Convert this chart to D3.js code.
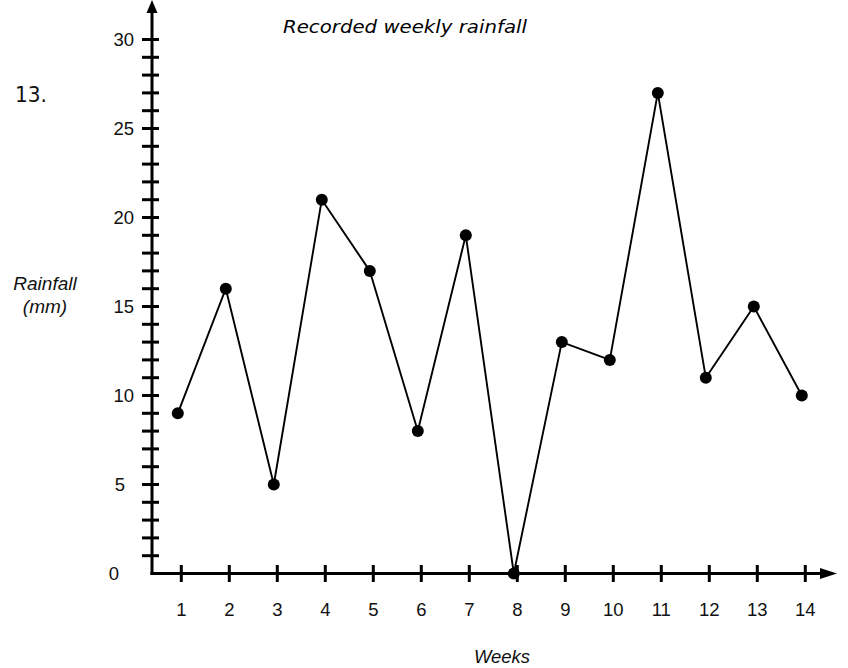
<!DOCTYPE html>
<html>
<head>
<meta charset="utf-8">
<script src="https://cdn.jsdelivr.net/npm/d3@7"></script>
<style>
  html, body { margin: 0; padding: 0; background: #fff; }
  svg { display: block; }
</style>
</head>
<body>
<svg id="chart" width="848" height="668"></svg>
<script>
// ---- data ----
const weeks = [1, 2, 3, 4, 5, 6, 7, 8, 9, 10, 11, 12, 13, 14];
const rainfall = [9, 16, 5, 21, 17, 8, 19, 0, 13, 12, 27, 11, 15, 10];
const yTickLabels = [0, 5, 10, 15, 20, 25, 30];
const yMinorTicks = d3.range(1, 31);
const titleText = "Recorded weekly rainfall";
const questionNumber = "13.";
const yLabelLines = ["Rainfall", "(mm)"];
const xLabelText = "Weeks";

// ---- layout ----
const svg = d3.select("#chart");
const originX = 152, originY = 573.5;
const x = d3.scaleLinear().domain([1, 14]).range([181.3, 805.3]);
const y = d3.scaleLinear().domain([0, 30]).range([originY, 39.5]);
const pointShift = -3.5;
const labelFont = "Liberation Sans, Arial, sans-serif";

// y axis
svg.append("line").attr("x1", originX).attr("x2", originX)
  .attr("y1", originY + 1.5).attr("y2", 8)
  .attr("stroke", "#000").attr("stroke-width", 3);
svg.append("path").attr("d", `M${originX},0 L${originX - 5.5},13 L${originX + 5.5},13 Z`).attr("fill", "#000");
svg.append("g").selectAll("line").data(yMinorTicks).join("line")
  .attr("x1", 142).attr("x2", 159)
  .attr("y1", d => y(d)).attr("y2", d => y(d))
  .attr("stroke", "#000").attr("stroke-width", 3);

// x axis
svg.append("line").attr("x1", originX - 1.5).attr("x2", 826)
  .attr("y1", originY).attr("y2", originY)
  .attr("stroke", "#000").attr("stroke-width", 3);
svg.append("path").attr("d", `M837,${originY} L820,${originY - 5.5} L820,${originY + 5.5} Z`).attr("fill", "#000");
svg.append("g").selectAll("line").data(weeks).join("line")
  .attr("x1", d => x(d)).attr("x2", d => x(d))
  .attr("y1", 565).attr("y2", 582)
  .attr("stroke", "#000").attr("stroke-width", 3);

// tick labels
svg.append("g").selectAll("text").data(weeks).join("text")
  .attr("x", d => x(d)).attr("y", 616)
  .attr("text-anchor", "middle")
  .attr("font-family", labelFont)
  .attr("font-size", 18.5).attr("fill", "#111")
  .text(d => d);
svg.append("g").selectAll("text").data(yTickLabels).join("text")
  .attr("x", d => d >= 10 ? 134 : (d === 5 ? 125 : 119))
  .attr("y", d => y(d) + 6.8)
  .attr("text-anchor", "end")
  .attr("font-family", labelFont)
  .attr("font-size", 18.5).attr("fill", "#111")
  .text(d => d);

// line + points
const pts = weeks.map((w, i) => [x(w) + pointShift, y(rainfall[i])]);
svg.append("path").datum(pts)
  .attr("d", d3.line())
  .attr("fill", "none").attr("stroke", "#000").attr("stroke-width", 1.9)
  .attr("stroke-linejoin", "round");
svg.append("g").selectAll("circle").data(pts).join("circle")
  .attr("cx", d => d[0]).attr("cy", d => d[1]).attr("r", 6)
  .attr("fill", "#000");

// texts
svg.append("text").attr("x", 283).attr("y", 33)
  .attr("font-family", "DejaVu Sans, sans-serif").attr("font-style", "italic")
  .attr("font-size", 18).attr("fill", "#000")
  .attr("textLength", 244).attr("lengthAdjust", "spacingAndGlyphs")
  .text(titleText);
svg.append("text").attr("x", 15).attr("y", 102)
  .attr("font-family", "DejaVu Sans, sans-serif")
  .attr("font-size", 21).attr("fill", "#111")
  .attr("textLength", 32).attr("lengthAdjust", "spacingAndGlyphs")
  .text(questionNumber);
svg.append("g").selectAll("text").data(yLabelLines).join("text")
  .attr("x", 45).attr("y", (d, i) => 290 + i * 23)
  .attr("text-anchor", "middle")
  .attr("font-family", labelFont).attr("font-style", "italic")
  .attr("font-size", 19).attr("fill", "#111")
  .text(d => d);
svg.append("text").attr("x", 502).attr("y", 663)
  .attr("text-anchor", "middle")
  .attr("font-family", labelFont).attr("font-style", "italic")
  .attr("font-size", 18.5).attr("fill", "#111")
  .text(xLabelText);
</script>
</body>
</html>
